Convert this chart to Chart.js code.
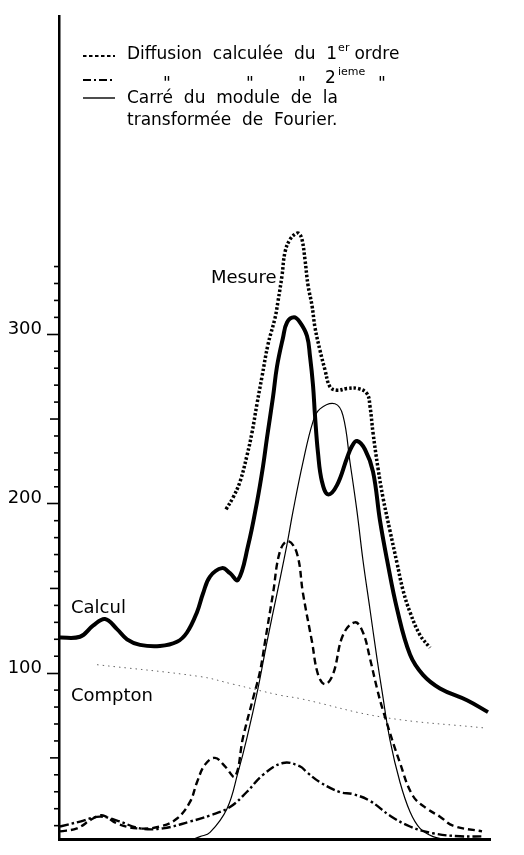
<!DOCTYPE html>
<html>
<head>
<meta charset="utf-8">
<script src="https://cdn.jsdelivr.net/npm/chart.js@4/dist/chart.umd.min.js"></script>
<style>
  body { margin: 0; background: #fff; }
  #wrap { width: 524px; height: 855px; }
</style>
</head>
<body>
<div id="wrap"><canvas id="chart" width="524" height="855"></canvas></div>
<script>
// Data (x: channel, y: counts)
const calculX = [0, 21, 34, 46, 58, 68, 81, 101, 118, 128, 138, 144, 151, 163, 171, 179, 189, 198, 204, 208, 214, 218, 224, 228, 235, 241, 248, 251, 254, 256, 259, 263, 269, 278, 288, 293, 298, 306, 314, 321, 328, 338, 351, 364, 381, 408, 429];
const calculY = [121, 121.5, 128, 132, 126, 120, 116.7, 116, 118.5, 124, 136, 147, 157, 162, 159, 155, 175, 201, 222, 239, 263, 281, 298, 307, 310, 307, 299, 287, 270, 252, 230, 213, 205.5, 211, 227, 234, 237, 232, 219, 190, 167, 138, 111, 99, 91, 84, 77];

const mesureX = [167, 174, 181, 188, 193, 198, 203, 209, 216, 219, 223, 226, 231, 237, 240, 243, 246, 249, 253, 256, 261, 266, 271, 278, 288, 299, 308, 311, 314, 319, 324, 331, 338, 344, 351, 361, 371];
const mesureY = [196.7, 203.6, 213, 228.5, 242, 259, 275, 294, 309.6, 319.5, 334.6, 348.5, 356, 359.5, 359.5, 356, 344, 329, 317, 304, 290.5, 279, 269, 267, 268, 268, 265, 257.5, 242, 221, 203.6, 184, 165, 149, 136, 122.5, 115];

const fourierX = [134, 141, 151, 168, 179, 188, 199, 208, 218, 228, 234, 244, 254, 261, 276, 284, 291, 298, 304, 311, 318, 323, 331, 341, 351, 361, 374, 386];
const fourierY = [2, 3.5, 6, 20, 41.4, 62, 91, 118.5, 147, 176, 195.5, 224.5, 248.5, 256, 259, 252, 224.5, 195.5, 166.5, 137.6, 108.6, 89.5, 60.5, 35.6, 18.2, 8.4, 3.5, 2];

const ordre1X = [1, 18, 34, 44, 58, 78, 101, 118, 131, 138, 146, 156, 166, 176, 184, 194, 201, 206, 214, 221, 229, 238, 244, 253, 259, 266, 274, 284, 296, 304, 311, 318, 324, 341, 354, 368, 381, 394, 423];
const ordre1Y = [6.6, 8.4, 14.2, 16, 11.3, 8.4, 9.5, 14.2, 24, 35.6, 46, 50, 45, 39, 62, 85, 101, 118.5, 147, 172, 178, 170.6, 147, 118.5, 99.3, 93.5, 99.3, 122.5, 130, 124, 108.6, 91, 78, 47, 27.5, 20, 15.3, 10, 6.6];

const ordre2X = [1, 21, 41, 58, 81, 104, 131, 151, 171, 188, 204, 224, 241, 248, 261, 281, 294, 311, 331, 351, 374, 401, 424];
const ordre2Y = [9.5, 12.4, 15.3, 13, 8.4, 8.4, 12.4, 16, 21, 30, 40, 47, 45, 41.4, 35.6, 29.8, 28.6, 24.6, 15.9, 9.5, 5.5, 3.7, 3.7];

const comptonX = [38, 141, 174, 221, 241, 324, 428];
const comptonY = [105, 98, 93.5, 87, 85, 74, 67.5];

const yLabels = [100, 200, 300];
const minorTicks = [10, 20, 30, 40, 50, 60, 70, 80, 90, 110, 120, 130, 140, 150, 160, 170, 180, 190, 210, 220, 230, 240, 250, 260, 270, 280, 290, 310, 320, 330, 340];

const FONT = '"DejaVu Sans", sans-serif';

function pairs(xs, ys) {
    return xs.map((x, i) => ({ x: x, y: ys[i] }));
}

function lineSet(label, xs, ys, width, dash, color) {
    return {
        label: label,
        data: pairs(xs, ys),
        borderColor: color || '#000',
        borderWidth: width,
        borderDash: dash || [],
        pointRadius: 0,
        fill: false,
        tension: 0.4,
        borderCapStyle: 'butt'
    };
}

// Extra drawing: minor ticks, curve names, legend
const decorations = {
    id: 'decorations',
    afterDraw(chart) {
        const ctx = chart.ctx;
        const yScale = chart.scales.y;
        const left = chart.chartArea.left;

        ctx.save();
        ctx.strokeStyle = '#000';
        ctx.lineWidth = 1.6;
        minorTicks.forEach(v => {
            const py = yScale.getPixelForValue(v);
            const len = v % 50 === 0 ? 9 : 5;
            ctx.beginPath();
            ctx.moveTo(left - len, py);
            ctx.lineTo(left, py);
            ctx.stroke();
        });

        ctx.fillStyle = '#000';
        ctx.textBaseline = 'alphabetic';
        ctx.font = '18px ' + FONT;
        ctx.fillText('Mesure', 211, 283);
        ctx.fillText('Calcul', 71, 613);
        ctx.fillText('Compton', 71, 701);

        // legend samples
        const samples = [
            { y: 56, dash: [3.5, 2.5], w: 1.8 },
            { y: 80, dash: [8, 3, 2, 3], w: 1.8 },
            { y: 98, dash: [], w: 1.4 }
        ];
        samples.forEach(s => {
            ctx.beginPath();
            ctx.setLineDash(s.dash);
            ctx.lineWidth = s.w;
            ctx.moveTo(83, s.y);
            ctx.lineTo(115, s.y);
            ctx.stroke();
        });
        ctx.setLineDash([]);

        let x = 127;
        ctx.font = '17px ' + FONT;
        const t1 = 'Diffusion  calculée  du  1';
        ctx.fillText(t1, x, 59);
        x += ctx.measureText(t1).width + 1;
        ctx.font = '11px ' + FONT;
        ctx.fillText('er', x, 51);
        x += ctx.measureText('er').width + 5;
        ctx.font = '17px ' + FONT;
        ctx.fillText('ordre', x, 59);

        ctx.fillText('"', 163, 89);
        ctx.fillText('"', 246, 89);
        ctx.fillText('"', 298, 89);
        ctx.fillText('2', 325, 83);
        ctx.font = '11px ' + FONT;
        ctx.fillText('ieme', 338, 75);
        ctx.font = '17px ' + FONT;
        ctx.fillText('"', 378, 89);

        ctx.fillText('Carré  du  module  de  la', 127, 103);
        ctx.fillText('transformée  de  Fourier.', 127, 125);
        ctx.restore();
    }
};

new Chart(document.getElementById('chart'), {
    type: 'line',
    data: {
        datasets: [
            lineSet('Calcul', calculX, calculY, 4),
            lineSet('Mesure', mesureX, mesureY, 3.5, [2.5, 2]),
            lineSet('Carré du module de la transformée de Fourier', fourierX, fourierY, 1.2),
            lineSet('Diffusion calculée du 1er ordre', ordre1X, ordre1Y, 2.4, [7, 4]),
            lineSet('Diffusion calculée du 2ième ordre', ordre2X, ordre2Y, 2.4, [9, 3, 2.5, 3]),
            lineSet('Compton', comptonX, comptonY, 1, [1.5, 4], '#666')
        ]
    },
    options: {
        responsive: false,
        animation: false,
        layout: { padding: { top: 12, right: 34, bottom: 0, left: 0 } },
        plugins: { legend: { display: false }, tooltip: { enabled: false } },
        scales: {
            x: {
                type: 'linear',
                min: 0,
                max: 431,
                grid: { display: false },
                ticks: { display: false },
                border: { display: true, color: '#000', width: 3 },
                afterFit: s => { s.height = 4; }
            },
            y: {
                type: 'linear',
                min: 2,
                max: 488,
                afterBuildTicks: s => { s.ticks = yLabels.map(v => ({ value: v })); },
                afterFit: s => { s.width = 59; },
                grid: { drawOnChartArea: false, tickLength: 12, tickWidth: 1.6, color: '#000' },
                border: { display: true, color: '#000', width: 2.5 },
                ticks: {
                    color: '#000',
                    padding: 5,
                    labelOffset: -5,
                    font: { family: FONT, size: 18 }
                }
            }
        }
    },
    plugins: [decorations]
});
</script>
</body>
</html>
